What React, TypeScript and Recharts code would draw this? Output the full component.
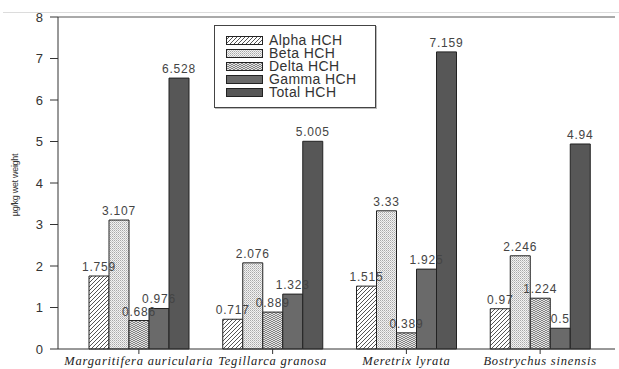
import {
  BarChart,
  Bar,
  XAxis,
  YAxis,
  LabelList,
  ReferenceLine,
} from "recharts";

const species = [
  "Margaritifera auricularia",
  "Tegillarca granosa",
  "Meretrix lyrata",
  "Bostrychus sinensis",
];
const alphaHCH = [1.759, 0.717, 1.515, 0.97];
const betaHCH = [3.107, 2.076, 3.33, 2.246];
const deltaHCH = [0.686, 0.889, 0.389, 1.224];
const gammaHCH = [0.976, 1.323, 1.925, 0.5];
const totalHCH = [6.528, 5.005, 7.159, 4.94];
const yTicks = [0, 1, 2, 3, 4, 5, 6, 7, 8];

const data = species.map((name, i) => ({
  name,
  alpha: alphaHCH[i],
  beta: betaHCH[i],
  delta: deltaHCH[i],
  gamma: gammaHCH[i],
  total: totalHCH[i],
}));

const seriesList = [
  { key: "alpha", name: "Alpha HCH", fill: "url(#pAlpha)" },
  { key: "beta", name: "Beta HCH", fill: "url(#pBeta)" },
  { key: "delta", name: "Delta HCH", fill: "url(#pDelta)" },
  { key: "gamma", name: "Gamma HCH", fill: "#6a6a6a" },
  { key: "total", name: "Total HCH", fill: "#575757" },
];

const SpeciesTick = ({ x, y, payload }: any) => (
  <text
    x={x}
    y={y + 9}
    textAnchor="middle"
    fontFamily="'Liberation Serif', serif"
    fontStyle="italic"
    fontSize={12.5}
    letterSpacing={0.8}
    fill="#222"
  >
    {payload.value}
  </text>
);

// legend drawn as an overlay so it doesn't push the plot down
const LegendBox = () => (
  <div
    style={{
      position: "absolute",
      left: 214,
      top: 25,
      width: 162,
      height: 83,
      border: "1px solid #444",
      boxShadow: "1px 1px 0 #bbb",
      background: "#fff",
      paddingTop: 8,
      boxSizing: "border-box",
    }}
  >
    {seriesList.map((s) => (
      <div
        key={s.key}
        style={{ display: "flex", alignItems: "center", height: 13 }}
      >
        <svg width={37} height={9} style={{ marginLeft: 11, marginRight: 6 }}>
          <rect x={0.5} y={0.5} width={36} height={8} fill={s.fill} stroke="#222" />
        </svg>
        <span
          style={{
            fontFamily: "'Liberation Sans', Arial, sans-serif",
            fontSize: 14,
            letterSpacing: 0.4,
            color: "#333",
            lineHeight: "13px",
          }}
        >
          {s.name}
        </span>
      </div>
    ))}
  </div>
);

export default function App() {
  return (
    <div style={{ position: "relative", width: 619, height: 369, background: "#fff" }}>
      <style>{`body{margin:0}`}</style>
      <div
        style={{
          position: "absolute",
          top: 12,
          left: 3,
          width: 616,
          height: 1,
          background: "#dcdcdc",
        }}
      />
      <BarChart
        width={619}
        height={369}
        data={data}
        margin={{ top: 17, right: 4, left: 0, bottom: 0 }}
        barSize={20}
        barGap={0}
      >
        <defs>
          <pattern id="pAlpha" width="4" height="4" patternUnits="userSpaceOnUse">
            <rect width="4" height="4" fill="#fff" />
            <path d="M-1,1 l2,-2 M0,4 l4,-4 M3,5 l2,-2" stroke="#555" strokeWidth="1" />
          </pattern>
          <pattern id="pBeta" width="2" height="2" patternUnits="userSpaceOnUse">
            <rect width="2" height="2" fill="#f2f2f2" />
            <rect width="1" height="1" fill="#a8a8a8" />
            <rect x="1" y="1" width="1" height="1" fill="#c8c8c8" />
          </pattern>
          <pattern id="pDelta" width="4" height="4" patternUnits="userSpaceOnUse">
            <rect width="4" height="4" fill="#e4e4e4" />
            <path d="M0,2 l2,-2 l2,2 M0,4 l2,-2 l2,2" stroke="#777" strokeWidth="0.9" fill="none" />
          </pattern>
        </defs>
        <XAxis
          dataKey="name"
          height={20}
          padding={{ left: 14, right: 8 }}
          tickSize={5}
          stroke="#333"
          tick={<SpeciesTick />}
          interval={0}
        />
        <YAxis
          width={58}
          domain={[0, 8]}
          ticks={yTicks}
          tickSize={8}
          tickMargin={7}
          stroke="#333"
          tick={{
            fontFamily: "'Liberation Sans', Arial, sans-serif",
            fontSize: 13,
            fill: "#333",
          }}
        />
        <ReferenceLine y={8} stroke="#555" />
        {seriesList.map((s) => (
          <Bar
            key={s.key}
            dataKey={s.key}
            name={s.name}
            fill={s.fill}
            stroke="#222"
            strokeWidth={1}
            isAnimationActive={false}
          >
            <LabelList
              dataKey={s.key}
              position="top"
              offset={5}
              style={{
                fontFamily: "'Liberation Sans', Arial, sans-serif",
                fontSize: 12,
                letterSpacing: 0.8,
                fill: "#444",
              }}
            />
          </Bar>
        ))}
      </BarChart>
      <LegendBox />
      <div
        style={{
          position: "absolute",
          left: 15,
          top: 185,
          transform: "translate(-50%, -50%) rotate(-90deg)",
          whiteSpace: "nowrap",
          fontFamily: "'Liberation Sans', Arial, sans-serif",
          fontSize: 9,
          letterSpacing: -0.3,
          color: "#333",
        }}
      >
        µg/kg wet weight
      </div>
    </div>
  );
}
